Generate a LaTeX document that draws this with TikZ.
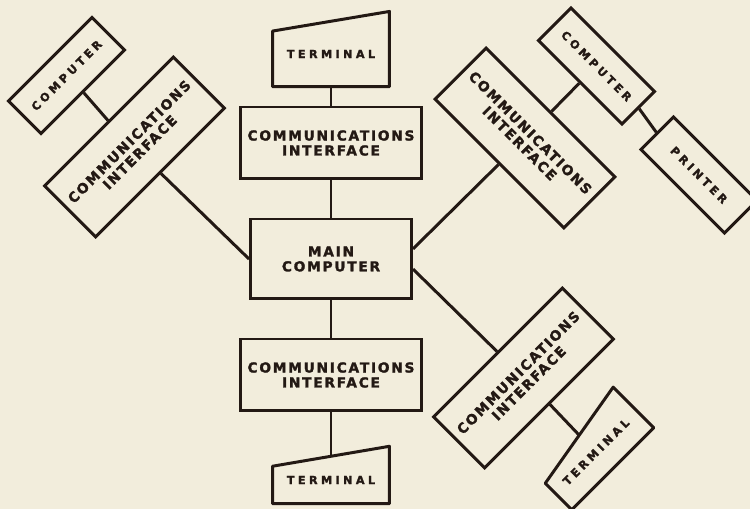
\documentclass[tikz,border=0pt]{standalone}
\usepackage{fontspec}
\newfontfamily\boxfont[LetterSpace=13, BoldFeatures={FakeBold=1.8}]{DejaVu Sans}
\newfontfamily\smallboxfont[LetterSpace=30, BoldFeatures={FakeBold=1.8}]{DejaVu Sans}
\usepackage{xcolor}
\usetikzlibrary{calc}
\definecolor{paper}{RGB}{242,237,220}
\definecolor{ink}{RGB}{35,25,20}

% terminal outline: flat base, slanted top
\newcommand{\termoutline}[3]{%
  \draw[ink, line width=1.7pt, line join=round] (#1.south west) -- (#1.south east)
    -- ($(#1.south east)!#2!(#1.north east)$) -- ($(#1.south west)!#3!(#1.north west)$) -- cycle;}

\begin{document}
\begin{tikzpicture}[
      x=0.02cm, y=-0.02cm,
      box/.style={draw=ink, line width=1.7pt, inner sep=0pt, align=center, text=ink,
        font={\boxfont\bfseries\fontsize{7.8}{8.5}\selectfont}},
      iface/.style={box, minimum width=3.64cm, minimum height=1.44cm},
      unit/.style={box, minimum width=2.36cm, minimum height=0.92cm,
        font={\smallboxfont\bfseries\fontsize{6.4}{7}\selectfont}},
      term/.style={unit, draw=none, minimum width=2.28cm},
      wire/.style={ink, line width=1.7pt}
    ]
      \useasboundingbox[fill=paper] (0,0) rectangle (750,509);
      % Centre column
      \node[box, minimum width=3.22cm, minimum height=1.6cm] (main) at (331,259) {MAIN\\COMPUTER};
      \node[iface] (cit) at (331,143) {COMMUNICATIONS\\INTERFACE};
      \node[iface] (cib) at (331,375) {COMMUNICATIONS\\INTERFACE};
      \node[term, minimum height=1.25cm] (tt) at (331,54) {TERMINAL};
      \termoutline{tt}{1.15}{0.85}
      \node[term, minimum height=0.89cm] (tb) at (331,480) {TERMINAL};
      \termoutline{tb}{1.21}{0.79}
      % Upper left branch
      \node[iface, rotate=45] (cil) at (134.5,147) {COMMUNICATIONS\\INTERFACE};
      \node[unit, rotate=45] (pcl) at (66.5,75.5) {COMPUTER};
      % Upper right branch
      \node[iface, rotate=-45] (cir) at (525,138) {COMMUNICATIONS\\INTERFACE};
      \node[unit, rotate=-45] (pcr) at (596.5,66) {COMPUTER};
      \node[unit, rotate=-45] (prn) at (699,175) {PRINTER};
      % Lower right branch
      \node[iface, rotate=45] (cibr) at (523.5,378) {COMMUNICATIONS\\INTERFACE};
      \node[term, rotate=45, minimum width=2.26cm, minimum height=0.89cm] (tbr) at (596,452) {TERMINAL};
      \termoutline{tbr}{1.21}{0.79}
      % Links
      \draw[wire] (tt.south) -- (cit.north);
      \draw[wire] (cit.south) -- (main.north);
      \draw[wire] (main.south) -- (cib.north);
      \draw[wire] (cib.south) -- (tb.north);
      \draw[wire] (pcl.south) -- (cil.north);
      \draw[wire] (cil.south) -- (main.west);
      \draw[wire] (cir.south) -- (main.7);
      \draw[wire] (pcr.south) -- (cir.north);
      \draw[wire] (pcr.east) -- (prn.west);
      \draw[wire] (main.-7) -- (cibr.north);
      \draw[wire] (cibr.south) -- (tbr.north);
    \end{tikzpicture}
\end{document}
